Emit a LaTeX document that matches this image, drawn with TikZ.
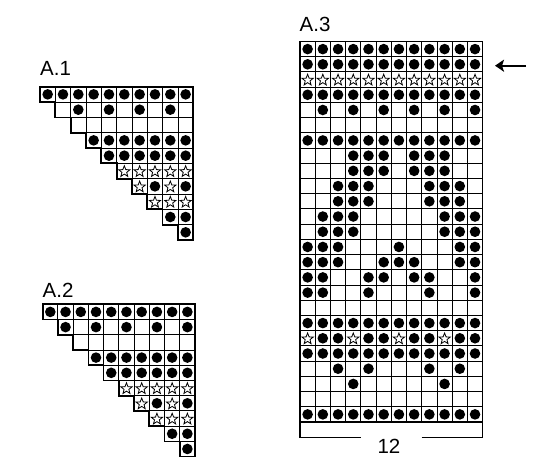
\documentclass[tikz,border=0pt]{standalone}
\usepackage{fontspec}
\setmainfont{Liberation Sans}
\usetikzlibrary{arrows.meta}
\tikzset{
  gridline/.style={line width=0.9pt},
  outline/.style={line width=1.7pt, line join=miter},
  dotmark/.style={fill=black},
  starmark/.style={line width=0.8pt, fill=white, line join=miter},
  charttitle/.style={font=\fontsize{20.5}{24}\selectfont, inner sep=0pt},
  bracketline/.style={line width=1.5pt},
  rowarrow/.style={line width=1.8pt, -{Stealth[length=9pt,width=12pt,inset=2pt]}},
}
\newcommand\cellN[3]{}
\newcommand\cellE[3]{\draw[gridline] (#1,#2) rectangle ++(#3,#3);}
\newcommand\cellD[3]{\cellE{#1}{#2}{#3}\fill[dotmark] ({#1+#3/2},{#2+#3/2}) circle (5.3pt);}
\newcommand\cellS[3]{\cellE{#1}{#2}{#3}\draw[starmark] ({#1+#3/2},{#2+#3/2+0.6})
  +(-90:5.9) -- +(-54:2.5) -- +(-18:5.9) -- +(18:2.5) -- +(54:5.9) -- +(90:2.5)
  -- +(126:5.9) -- +(162:2.5) -- +(198:5.9) -- +(234:2.5) -- cycle;}
\newcommand\chart[4]{%
  \foreach \rowlist [count=\ri from 0] in {#4} {%
    \foreach \sym [count=\ki from 0] in \rowlist {%
      \pgfmathsetmacro\cxx{#1+\ki*#3}%
      \pgfmathsetmacro\cyy{#2+\ri*#3}%
      \csname cell\sym\endcsname{\cxx}{\cyy}{#3}%
    }%
  }%
}
\newcommand\stair[3]{%
  \draw[outline] (#1,#2) -- ({#1+10*#3},#2) -- ({#1+10*#3},{#2+10*#3})
    \foreach \i in {9,...,1}{ -- ({#1+\i*#3},{#2+(\i+1)*#3}) -- ({#1+\i*#3},{#2+\i*#3}) }
    -- (#1,{#2+#3}) -- cycle;
}
\begin{document}
\begin{tikzpicture}[x=1pt,y=-1pt]
\useasboundingbox (0,0) rectangle (550,476);
% A.1
\node[charttitle, anchor=base west] (tA1) at (40,76) {A.1};
\chart{40}{86.7}{15.33}{%
{D,D,D,D,D,D,D,D,D,D},%
{N,E,D,E,D,E,D,E,D,E},%
{N,N,E,E,E,E,E,E,E,E},%
{N,N,N,D,D,D,D,D,D,D},%
{N,N,N,N,D,D,D,D,D,D},%
{N,N,N,N,N,S,S,S,S,S},%
{N,N,N,N,N,N,S,D,S,D},%
{N,N,N,N,N,N,N,S,S,S},%
{N,N,N,N,N,N,N,N,D,D},%
{N,N,N,N,N,N,N,N,N,D}}
\stair{40}{86.7}{15.33}
% A.2
\node[charttitle, anchor=base west] (tA2) at (42.5,298) {A.2};
\chart{42.7}{304.3}{15.23}{%
{D,D,D,D,D,D,D,D,D,D},%
{N,D,E,D,E,D,E,D,E,D},%
{N,N,E,E,E,E,E,E,E,E},%
{N,N,N,D,D,D,D,D,D,D},%
{N,N,N,N,D,D,D,D,D,D},%
{N,N,N,N,N,S,S,S,S,S},%
{N,N,N,N,N,N,S,D,S,D},%
{N,N,N,N,N,N,N,S,S,S},%
{N,N,N,N,N,N,N,N,D,D},%
{N,N,N,N,N,N,N,N,N,D}}
\stair{42.7}{304.3}{15.23}
% A.3
\node[charttitle, anchor=base west] (tA3) at (299.5,31.7) {A.3};
\chart{300}{41.5}{15.22}{%
{D,D,D,D,D,D,D,D,D,D,D,D},%
{D,D,D,D,D,D,D,D,D,D,D,D},%
{S,S,S,S,S,S,S,S,S,S,S,S},%
{D,D,D,D,D,D,D,D,D,D,D,D},%
{E,D,E,D,E,D,E,D,E,D,E,D},%
{E,E,E,E,E,E,E,E,E,E,E,E},%
{D,D,D,D,D,D,D,D,D,D,D,D},%
{E,E,E,D,D,D,E,D,D,D,E,E},%
{E,E,E,D,D,D,E,D,D,D,E,E},%
{E,E,D,D,D,E,E,E,D,D,D,E},%
{E,E,D,D,D,E,E,E,D,D,D,E},%
{E,D,D,D,E,E,E,E,E,D,D,D},%
{E,D,D,D,E,E,E,E,E,D,D,D},%
{D,D,D,E,E,E,D,E,E,E,D,D},%
{D,D,D,E,E,D,D,D,E,E,D,D},%
{D,D,E,E,D,D,E,D,D,E,E,D},%
{D,D,E,E,D,E,E,E,D,E,E,D},%
{E,E,E,E,E,E,E,E,E,E,E,E},%
{D,D,D,D,D,D,D,D,D,D,D,D},%
{S,D,D,S,D,D,S,D,D,S,D,D},%
{D,D,D,D,D,D,D,D,D,D,D,D},%
{E,E,D,E,D,E,E,E,D,E,D,E},%
{E,E,E,D,E,E,E,E,E,D,E,E},%
{E,E,E,E,E,E,E,E,E,E,E,E},%
{D,D,D,D,D,D,D,D,D,D,D,D}}
\draw[outline] (300,41.5) rectangle ++(182.64,380.5);
% row arrow
\coordinate (arrowtail) at (526,65.7);
\coordinate (arrowtip) at (495,65.7);
\draw[rowarrow] (arrowtail) -- (arrowtip);
% width bracket
\coordinate (brTL) at (300,422);
\coordinate (brBL) at (300,437.5);
\coordinate (brML) at (360.7,437.5);
\coordinate (brMR) at (421.7,437.5);
\coordinate (brBR) at (482.64,437.5);
\coordinate (brTR) at (482.64,422);
\draw[bracketline] (brTL) -- (brBL) -- (brML);
\draw[bracketline] (brMR) -- (brBR) -- (brTR);
\node[charttitle, anchor=base] (width) at (389,453.3) {12};
\end{tikzpicture}
\end{document}
